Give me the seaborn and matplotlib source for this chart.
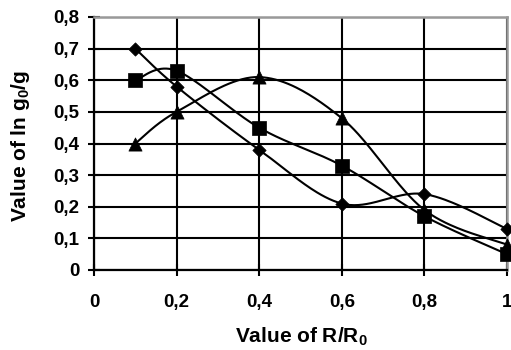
import numpy as np
import pandas as pd
import matplotlib
matplotlib.use("Agg")
import matplotlib.pyplot as plt
from matplotlib.ticker import FuncFormatter
import seaborn as sns

# Data
x_vals = [0.1, 0.2, 0.4, 0.6, 0.8, 1.0]
diamond_vals = [0.70, 0.58, 0.38, 0.21, 0.24, 0.13]
square_vals = [0.60, 0.63, 0.45, 0.33, 0.17, 0.05]
triangle_vals = [0.40, 0.50, 0.61, 0.48, 0.19, 0.08]
x_ticks = [0, 0.2, 0.4, 0.6, 0.8, 1.0]
y_ticks = [0, 0.1, 0.2, 0.3, 0.4, 0.5, 0.6, 0.7, 0.8]
x_label = "Value of R/R$_\\mathbf{0}$"
y_label = "Value of ln g$_\\mathbf{0}$/g"

sns.set_theme(style="white")
plt.rcParams["font.family"] = ["Liberation Sans", "DejaVu Sans"]
plt.rcParams["font.weight"] = "bold"
plt.rcParams["mathtext.fontset"] = "custom"
plt.rcParams["mathtext.rm"] = "Liberation Sans:bold"
plt.rcParams["mathtext.bf"] = "Liberation Sans:bold"
plt.rcParams["mathtext.default"] = "bf"


def smooth_curve(xs, ys, n=40):
    """Excel-like smoothed line: Catmull-Rom Bezier segments through the points."""
    P = np.column_stack([xs, ys]).astype(float)
    out = []
    m = len(P)
    for i in range(m - 1):
        p0 = P[i - 1] if i > 0 else P[i]
        p1 = P[i]
        p2 = P[i + 1]
        p3 = P[i + 2] if i + 2 < m else P[i + 1]
        c1 = p1 + (p2 - p0) / 6.0
        c2 = p2 - (p3 - p1) / 6.0
        t = np.linspace(0, 1, n, endpoint=(i == m - 2))[:, None]
        seg = ((1 - t) ** 3) * p1 + 3 * ((1 - t) ** 2) * t * c1 + 3 * (1 - t) * t ** 2 * c2 + t ** 3 * p2
        out.append(seg)
    out = np.vstack(out)
    return out[:, 0], out[:, 1]


fig = plt.figure(figsize=(5.11, 3.5), dpi=100)
ax = fig.add_axes([94 / 511, (350 - 270) / 350, 413 / 511, 253 / 350])

series = [
    ("diamond", diamond_vals, "D", 46),
    ("square", square_vals, "s", 100),
    ("triangle", triangle_vals, "^", 90),
]

for name, vals, mk, sz in series:
    cx, cy = smooth_curve(x_vals, vals)
    curve = pd.DataFrame({"x": cx, "y": cy})
    sns.lineplot(data=curve, x="x", y="y", sort=False, estimator=None,
                 color="black", linewidth=1.5, ax=ax, zorder=3)
    pts = pd.DataFrame({"x": x_vals, "y": vals})
    sns.scatterplot(data=pts, x="x", y="y", marker=mk, s=sz, color="black",
                    edgecolor="black", linewidth=0.5, ax=ax, zorder=4, clip_on=False)

ax.set_xlim(0, 1)
ax.set_ylim(0, 0.8)
ax.set_xticks(x_ticks)
ax.set_yticks(y_ticks)
fmt = FuncFormatter(lambda v, p: f"{v:g}".replace(".", ","))
ax.xaxis.set_major_formatter(fmt)
ax.yaxis.set_major_formatter(fmt)

ax.grid(True, color="black", linewidth=1.5)
ax.set_axisbelow(True)
for s in ["left", "bottom"]:
    ax.spines[s].set_color("black")
    ax.spines[s].set_linewidth(1.6)
for s in ["top", "right"]:
    ax.spines[s].set_color("#999999")
    ax.spines[s].set_linewidth(1.8)

ax.tick_params(axis="both", direction="inout", length=9, width=1.5, color="black",
               labelsize=13.5, labelcolor="black")
ax.tick_params(axis="x", pad=13, bottom=True)
ax.tick_params(axis="y", pad=6, left=True)
for lab in ax.get_xticklabels() + ax.get_yticklabels():
    lab.set_fontweight("bold")

ax.set_xlabel("")
ax.set_ylabel("")
fig.text(301 / 511, 1 - 343 / 350, x_label, fontsize=15, fontweight="bold",
         color="black", ha="center", va="baseline")
fig.text(21 / 511, 1 - 146 / 350, y_label, fontsize=15, fontweight="bold",
         color="black", ha="center", va="center", rotation=90)

fig.savefig("out.png", dpi=100)
